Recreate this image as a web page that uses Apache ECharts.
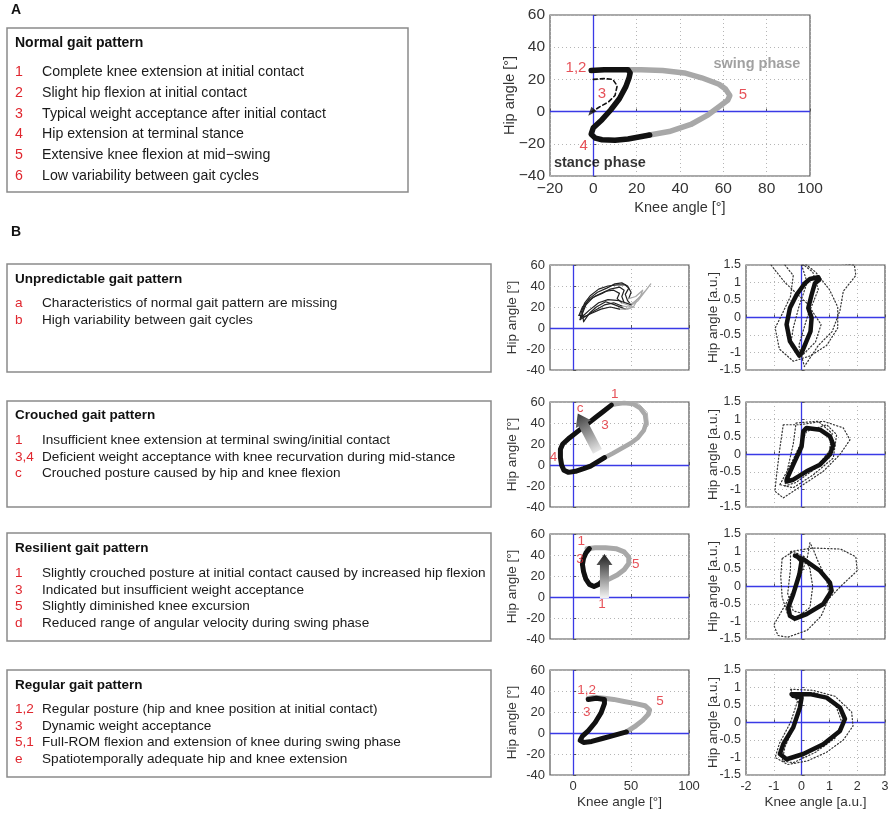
<!DOCTYPE html>
<html>
<head>
<meta charset="utf-8">
<script src="https://cdn.jsdelivr.net/npm/echarts@6/dist/echarts.min.js"></script>
</head>
<body style="margin:0;background:#fff">
<div id="container" style="width:892px;height:818px"></div>
<script>
// ---- data (knee angle, hip angle) ----
var normalStance = [[-1,25.5],[5,26],[11,26],[16,26],[17,24],[16.5,21],[15,15.5],[12,8],[8,1],[4,-5],[0,-10],[-1,-14],[1,-16.5],[4,-17.5],[10,-17.8],[16,-17],[21,-15.8],[26,-14.5]];
var normalSwing = [[26,-14.5],[35,-12.4],[45,-8],[53,-2],[58,3],[62,7],[63,10],[61,14],[58,17],[50,21],[42,24],[32,25.5],[22,26],[17,26]];
var normalDashed = [[0,20],[5,20.5],[9,20],[11,16],[10,10],[7,6],[3,3],[-0.5,0]];
var normalArrowTip = [[-1,-0.5]];

var unpredStance = [
  [[6,8],[7,15],[10,24],[15,31],[22,37],[30,40],[38,41],[45,41],[48,38],[45,32],[47,26],[50,22]],
  [[9,6],[8,14],[11,22],[17,29],[25,33],[32,37],[40,39],[44,36],[42,30],[44,24]],
  [[7,10],[9,19],[14,28],[21,34],[29,38],[36,42],[42,43],[47,40],[50,34],[48,28]],
  [[5,12],[8,20],[13,26],[20,31],[28,35],[35,36],[40,33],[38,28],[42,24]]
];
var unpredSwing = [
  [[50,22],[56,28],[62,35],[67,42],[63,36],[56,26],[48,20],[42,21]],
  [[44,24],[50,23],[55,26],[52,20],[45,18]],
  [[48,28],[54,30],[60,36],[58,30],[50,22]],
  [[42,24],[47,22],[52,20],[47,18],[40,18]]
];
var unpredReturn = [
  [[42,21],[35,24],[27,22],[19,17],[12,12],[6,8]],
  [[45,18],[36,22],[28,25],[20,20],[14,14],[9,6]],
  [[50,22],[40,26],[30,27],[22,24],[14,17],[7,10]],
  [[40,18],[32,20],[24,18],[16,14],[10,11],[5,12]]
];

var crouchedStance = [[33,57],[26,51],[19,45],[11,38],[4,32],[-3,26],[-9,20],[-11,15],[-11,7],[-10,0],[-8,-5],[-4,-7],[2,-6],[9,-3.5],[15,-1],[21,3],[27,7]];
var crouchedSwing = [[27,7],[34,11],[42,16],[50,21],[56,26],[61,33],[63,40],[62,48],[58,54],[52,58],[44,59],[37,58],[33,57]];
var crouchedSwingThin = [[30,9],[45,17],[57,27],[65,38],[64,50],[57,58],[47,61],[38,59]];
var crouchedArrow = [[21,13,4,49]];

var resilientStance = [[14,46],[11,42],[9,37],[8,31],[9,24],[11,17],[14,12],[18,10],[22,12],[25,15]];
var resilientSwing = [[25,15],[31,17],[38,21],[44,26],[48,32],[48,38],[44,43],[37,46],[28,47],[19,47],[12,46]];
var resilientArrow = [[27,-1,27,41]];

var regularStance = [[13,32],[20,33],[27,32],[27,28],[24,19],[19,10],[13,2],[8,-3],[6,-7],[9,-9],[16,-8],[26,-5],[36,-2],[46,1]];
var regularSwing = [[46,1],[53,6],[60,12],[65,18],[66,22],[62,26],[54,28],[44,30],[35,32],[27,33],[18,34],[13,33]];

// normalised loops (a.u.): thick = this patient, dotted = others
var unpredLoop = [[-0.08,-1.09],[-0.42,-0.68],[-0.54,-0.2],[-0.42,0.27],[-0.18,0.65],[0.12,0.98],[0.3,1.1],[0.6,1.15],[0.64,1.08],[0.48,0.98],[0.36,0.65],[0.24,0.27],[0.36,-0.01],[0.32,-0.4],[0.12,-0.78],[0,-1.01],[-0.08,-1.09]];
var unpredDotted = [
  [[0.0,1.55],[0.8,1.6],[1.9,1.5],[1.95,1.2],[1.5,0.75],[1.38,0.2],[1.1,-0.4],[0.6,-0.8],[0.1,-1.4],[-0.1,-0.8],[0.2,0],[0.6,0.8],[0.4,1.3],[0.0,1.55]],
  [[-0.6,1.5],[-0.3,1.2],[-0.4,0.6],[-0.7,0.1],[-0.95,-0.3],[-0.8,-0.9],[-0.3,-1.25],[0.3,-1.1],[0.9,-0.8],[1.3,-0.3],[1.3,0.3],[1.0,0.8],[0.5,1.3],[0.1,1.55]],
  [[-1.1,1.5],[-0.6,1.0],[0.2,0.4],[0.7,-0.2],[0.5,-0.7],[0.0,-1.1],[-0.4,-0.8],[-0.3,-0.3],[-0.1,0.3],[0.2,1.0],[0.0,1.5]]
];
var crouchedLoop = [[-0.54,-0.72],[-0.3,-0.29],[0,0.23],[0.06,0.66],[0.18,0.76],[0.66,0.71],[1.02,0.52],[1.14,0.28],[1.02,0],[0.66,-0.29],[0.18,-0.48],[-0.3,-0.72],[-0.54,-0.77],[-0.54,-0.72]];
var crouchedDotted = [
  [[-0.66,0.85],[-0.06,0.85],[0.78,0.95],[1.5,0.76],[1.74,0.42],[1.38,0],[0.78,-0.48],[0.06,-0.86],[-0.66,-1.24],[-0.96,-1.05],[-0.9,-0.58],[-0.78,0.19],[-0.66,0.85]],
  [[-0.78,-0.86],[-0.4,-0.3],[0.18,0.66],[0.9,0.85],[1.26,0.57],[1.14,-0.1],[0.42,-0.58],[-0.3,-0.95],[-0.78,-0.86]],
  [[-0.2,0.9],[0.6,0.95],[1.1,0.6],[1.0,0.1],[0.5,-0.4],[-0.2,-0.8],[-0.6,-0.9],[-0.5,-0.4],[-0.3,0.3],[-0.2,0.9]]
];
var resilientLoop = [[-0.24,0.88],[0.06,0.78],[0.66,0.45],[1.02,0.11],[1.08,-0.12],[0.78,-0.5],[0.18,-0.79],[-0.24,-0.92],[-0.42,-0.84],[-0.48,-0.6],[-0.3,-0.22],[-0.08,0.35],[0,0.73],[-0.18,0.88]];
var resilientDotted = [
  [[-0.4,1.0],[0.4,1.1],[1.4,1.07],[1.95,0.85],[2.0,0.45],[1.4,0.0],[0.8,-0.5],[0.2,-0.8],[-0.3,-0.7],[-0.5,-0.2],[-0.4,0.5],[-0.4,1.0]],
  [[0.3,1.25],[0.2,0.8],[-0.1,0.2],[-0.5,-0.4],[-1.0,-1.1],[-0.85,-1.4],[-0.5,-1.45],[0.2,-1.25],[0.7,-0.85],[1.0,-0.3],[0.9,0.2],[0.6,0.7],[0.4,1.1],[0.3,1.25]],
  [[-0.7,0.8],[-0.75,0.3],[-0.7,-0.3],[-0.5,-0.8],[-0.2,-0.9],[0.3,-0.6],[0.4,0.0],[0.3,0.5],[0.1,0.85],[-0.3,1.0],[-0.7,0.8]]
];
var regularLoop = [[-0.36,0.81],[0.3,0.81],[0.9,0.71],[1.38,0.43],[1.56,0.1],[1.38,-0.24],[0.78,-0.62],[0.06,-0.9],[-0.54,-1.05],[-0.78,-0.9],[-0.66,-0.62],[-0.3,-0.14],[-0.06,0.43],[0,0.71],[-0.3,0.76],[-0.36,0.81]];
var regularDotted = [
  [[-0.4,0.95],[0.4,0.92],[1.2,0.75],[1.8,0.3],[1.85,-0.1],[1.5,-0.5],[0.9,-0.85],[0.2,-1.1],[-0.5,-1.2],[-0.95,-1.0],[-0.8,-0.6],[-0.4,0.0],[-0.15,0.6],[-0.4,0.95]],
  [[-0.3,0.85],[0.5,0.85],[1.2,0.55],[1.45,0.0],[1.2,-0.45],[0.5,-0.85],[-0.3,-1.15],[-0.7,-1.1],[-0.6,-0.7],[-0.2,0.0],[-0.05,0.5],[-0.3,0.85]]
];

// red markers inside the plots
var normalMarks = [[-8,27,'1,2'],[4,11,'3'],[-4.5,-21.5,'4'],[69,10.5,'5']];
var crouchedMarks = [[36,67,'1'],[6,54,'c'],[27.5,37.5,'3'],[-17,7,'4']];
var resilientMarks = [[7,53.5,'1'],[6,36,'3'],[54,31.5,'5'],[25,-7,'1']];
var regularMarks = [[11.7,41,'1,2'],[11.7,19.5,'3'],[75,30.5,'5']];

// description boxes
var boxes = [
  {y:28, h:164, w:401, title:'Normal gait pattern', ty:43, iy:72, step:20.8, fs:14.2, tfs:14,
   keys:['1','2','3','4','5','6'],
   items:['Complete knee extension at initial contact','Slight hip flexion at initial contact','Typical weight acceptance after initial contact','Hip extension at terminal stance','Extensive knee flexion at mid\u2212swing','Low variability between gait cycles']},
  {y:264, h:108, w:484, title:'Unpredictable gait pattern', ty:279, iy:303, step:16.8, fs:13.6, tfs:13.5,
   keys:['a','b'],
   items:['Characteristics of normal gait pattern are missing','High variability between gait cycles']},
  {y:401, h:106, w:484, title:'Crouched gait pattern', ty:415, iy:440, step:16.8, fs:13.6, tfs:13.5,
   keys:['1','3,4','c'],
   items:['Insufficient knee extension at terminal swing/initial contact','Deficient weight acceptance with knee recurvation during mid-stance','Crouched posture caused by hip and knee flexion']},
  {y:533, h:108, w:484, title:'Resilient gait pattern', ty:548, iy:573, step:16.8, fs:13.6, tfs:13.5,
   keys:['1','3','5','d'],
   items:['Slightly crouched posture at initial contact caused by increased hip flexion','Indicated but insufficient weight acceptance','Slightly diminished knee excursion','Reduced range of angular velocity during swing phase']},
  {y:670, h:107, w:484, title:'Regular gait pattern', ty:685, iy:709, step:16.8, fs:13.6, tfs:13.5,
   keys:['1,2','3','5,1','e'],
   items:['Regular posture (hip and knee position at initial contact)','Dynamic weight acceptance','Full-ROM flexion and extension of knee during swing phase','Spatiotemporally adequate hip and knee extension']}
];

var FONT = '"Liberation Sans", Arial, sans-serif';
var RED = '#e0262e', BLACK = '#111', GRAY = '#a8a8a8', BLUE = '#3a3ae6';

// panel layout: 0 = A, 1..4 middle column, 5..8 right column
var rowTops = [265, 402, 534, 670];
var panels = [{l:550, t:15, w:260, h:161, x:[-20,100,20], y:[-40,60,20], xLab:true, xName:'Knee angle [\u00b0]', yName:'Hip angle [\u00b0]', big:true}];
rowTops.forEach(function (t, i) {
  panels.push({l:550, t:t, w:139, h:105, x:[-20,100], xCustom:[0,50,100], y:[-40,60,20], xLab:i === 3, xName:i === 3 ? 'Knee angle [\u00b0]' : '', yName:'Hip angle [\u00b0]'});
});
rowTops.forEach(function (t, i) {
  panels.push({l:746, t:t, w:139, h:105, x:[-2,3,1], y:[-1.5,1.5,0.5], xLab:i === 3, xName:i === 3 ? 'Knee angle [a.u.]' : '', yName:'Hip angle [a.u.]', au:true});
});

var grids = [], xAxes = [], yAxes = [];
panels.forEach(function (p) {
  var fs = p.big ? 15.5 : (p.au ? 12.5 : 13);
  var minus = function (v) { return p.big ? String(v).replace('-', '\u2212') : String(v); };
  grids.push({left:p.l, top:p.t, width:p.w, height:p.h, show:true, borderColor:'#555', borderWidth:1.2, backgroundColor:'#fff'});
  var xa = {
    type:'value', gridIndex:grids.length - 1, min:p.x[0], max:p.x[1],
    axisLine:{show:false},
    axisTick:{show:true, inside:true, length:3, lineStyle:{color:'#555'}},
    axisLabel:{show:p.xLab, color:'#333', fontSize:fs, fontFamily:FONT, margin:5, formatter:minus},
    splitLine:{show:true, lineStyle:{color:'#b5b5b5', type:[1,3], width:1}},
    name:p.xName, nameLocation:'middle', nameGap:p.big ? 24 : 20, nameMoveOverlap:false,
    nameTextStyle:{color:'#333', fontSize:p.big ? 14.5 : 13.5, fontFamily:FONT}
  };
  if (p.x[2]) xa.interval = p.x[2];
  if (p.xCustom) { xa.axisTick.customValues = p.xCustom; xa.axisLabel.customValues = p.xCustom; }
  xAxes.push(xa);
  yAxes.push({
    type:'value', gridIndex:grids.length - 1, min:p.y[0], max:p.y[1], interval:p.y[2],
    axisLine:{show:false},
    axisTick:{show:true, inside:true, length:3, lineStyle:{color:'#555'}},
    axisLabel:{show:true, color:'#333', fontSize:fs, fontFamily:FONT, margin:5, formatter:minus},
    splitLine:{show:true, lineStyle:{color:'#b5b5b5', type:[1,3], width:1}},
    name:p.yName, nameLocation:'middle', nameGap:p.big ? 33 : (p.au ? 26 : 31), nameMoveOverlap:false,
    nameTextStyle:{color:'#333', fontSize:p.big ? 14.5 : 13.5, fontFamily:FONT}
  });
});

function curve(i, data, color, width, type, z) {
  return {type:'line', xAxisIndex:i, yAxisIndex:i, data:data, showSymbol:false, symbol:'none', silent:true,
          lineStyle:{color:color, width:width, type:type || 'solid', cap:'round', join:'round'}, z:z || 3};
}
function zeroLines(i) {
  return {type:'line', xAxisIndex:i, yAxisIndex:i, data:[[0,0]], showSymbol:false, symbol:'none', silent:true,
          lineStyle:{opacity:0}, z:1,
          markLine:{silent:true, symbol:'none', z:1, animation:false, label:{show:false},
                    lineStyle:{color:BLUE, width:1.3, type:'solid'}, data:[{xAxis:0},{yAxis:0}]}};
}
function marks(i, data, color, size, weight) {
  return {type:'scatter', xAxisIndex:i, yAxisIndex:i, data:data, symbolSize:1, clip:false, silent:true, z:6,
          itemStyle:{color:'rgba(0,0,0,0)'},
          label:{show:true, position:'inside', color:color, fontSize:size, fontWeight:weight || 'normal', fontFamily:FONT,
                 formatter:function (d) { return d.value[2]; }}};
}
function arrow(i, data, shaftW, headW, headL, c0, c1) {
  return {type:'custom', xAxisIndex:i, yAxisIndex:i, data:data, silent:true, z:5, clip:false,
    renderItem:function (params, api) {
      var p0 = api.coord([api.value(0), api.value(1)]);
      var p1 = api.coord([api.value(2), api.value(3)]);
      var dx = p1[0] - p0[0], dy = p1[1] - p0[1], len = Math.sqrt(dx * dx + dy * dy);
      var ux = dx / len, uy = dy / len, nx = -uy, ny = ux;
      var bx = p1[0] - ux * headL, by = p1[1] - uy * headL;
      var pts = [
        [p0[0] + nx * shaftW / 2, p0[1] + ny * shaftW / 2],
        [bx + nx * shaftW / 2, by + ny * shaftW / 2],
        [bx + nx * headW / 2, by + ny * headW / 2],
        [p1[0], p1[1]],
        [bx - nx * headW / 2, by - ny * headW / 2],
        [bx - nx * shaftW / 2, by - ny * shaftW / 2],
        [p0[0] - nx * shaftW / 2, p0[1] - ny * shaftW / 2]
      ];
      return {type:'polygon', shape:{points:pts},
              style:{fill:new echarts.graphic.LinearGradient(p0[0], p0[1], p1[0], p1[1],
                     [{offset:0, color:c0}, {offset:1, color:c1}], true)}};
    }};
}

var series = [];
for (var i = 0; i < 9; i++) series.push(zeroLines(i));

// A: normal gait
series.push(curve(0, normalSwing, GRAY, 5.5));
series.push(curve(0, normalStance, BLACK, 5.5, 'solid', 4));
series.push(curve(0, normalDashed, BLACK, 1.6, [4, 3], 5));
series.push({type:'scatter', xAxisIndex:0, yAxisIndex:0, data:normalArrowTip, symbol:'triangle', symbolSize:[7, 9],
             symbolRotate:140, itemStyle:{color:BLACK}, silent:true, z:5});
series.push(marks(0, normalMarks, RED, 15));
series.push(marks(0, [[75.5,29.3,'swing phase']], '#8a8a8a', 14.5, 'bold'));
series.push(marks(0, [[3,-32,'stance phase']], '#000', 14.5, 'bold'));

// B1: unpredictable
unpredStance.forEach(function (c, k) {
  series.push(curve(1, c, '#222', 1.2));
  series.push(curve(1, unpredSwing[k], '#aaa', 1.2));
  series.push(curve(1, unpredReturn[k], '#222', 1.2));
});
// B2: crouched
series.push(curve(2, crouchedSwingThin, '#bbb', 1));
series.push(curve(2, crouchedSwing, GRAY, 4.5));
series.push(curve(2, crouchedStance, BLACK, 5, 'solid', 4));
series.push(arrow(2, crouchedArrow, 10, 17, 12, '#e6e6e6', '#3a3a3a'));
series.push(marks(2, crouchedMarks, RED, 13.5));
// B3: resilient
series.push(curve(3, resilientSwing, GRAY, 5));
series.push(curve(3, resilientStance, BLACK, 5, 'solid', 4));
series.push(arrow(3, resilientArrow, 9, 16, 11, '#f4f4f4', '#1e1e1e'));
series.push(marks(3, resilientMarks, RED, 13.5));
// B4: regular
series.push(curve(4, regularSwing, GRAY, 5));
series.push(curve(4, regularStance, BLACK, 5, 'solid', 4));
series.push(marks(4, regularMarks, RED, 13.5));

// right column
[[5, unpredLoop, unpredDotted], [6, crouchedLoop, crouchedDotted], [7, resilientLoop, resilientDotted], [8, regularLoop, regularDotted]]
.forEach(function (r) {
  r[2].forEach(function (d) { series.push(curve(r[0], d, '#333', 1.2, [1.2, 2.2])); });
  series.push(curve(r[0], r[1], BLACK, 4.5, 'solid', 4));
});

// description boxes and panel letters
var graphics = [
  {type:'text', left:11, top:3, style:{text:'A', fontSize:14, fontWeight:'bold', fontFamily:FONT, fill:'#111'}},
  {type:'text', left:11, top:225, style:{text:'B', fontSize:14, fontWeight:'bold', fontFamily:FONT, fill:'#111'}}
];
boxes.forEach(function (b) {
  graphics.push({type:'rect', shape:{x:7, y:b.y, width:b.w, height:b.h},
                 style:{fill:'none', stroke:'#8a8a8a', lineWidth:1.5}});
  graphics.push({type:'text', x:15, y:b.ty, style:{text:b.title, fontSize:b.tfs, fontWeight:'bold', fontFamily:FONT,
                 fill:'#111', verticalAlign:'middle'}});
  b.items.forEach(function (t, k) {
    var yy = b.iy + k * b.step;
    graphics.push({type:'text', x:15, y:yy, style:{text:b.keys[k], fontSize:b.fs, fontFamily:FONT, fill:RED, verticalAlign:'middle'}});
    graphics.push({type:'text', x:42, y:yy, style:{text:t, fontSize:b.fs, fontFamily:FONT, fill:'#1a1a1a', verticalAlign:'middle'}});
  });
});

var chart = echarts.init(document.getElementById('container'));
chart.setOption({
  animation:false,
  backgroundColor:'#fff',
  grid:grids, xAxis:xAxes, yAxis:yAxes,
  graphic:{elements:graphics},
  series:series
});
</script>
</body>
</html>
